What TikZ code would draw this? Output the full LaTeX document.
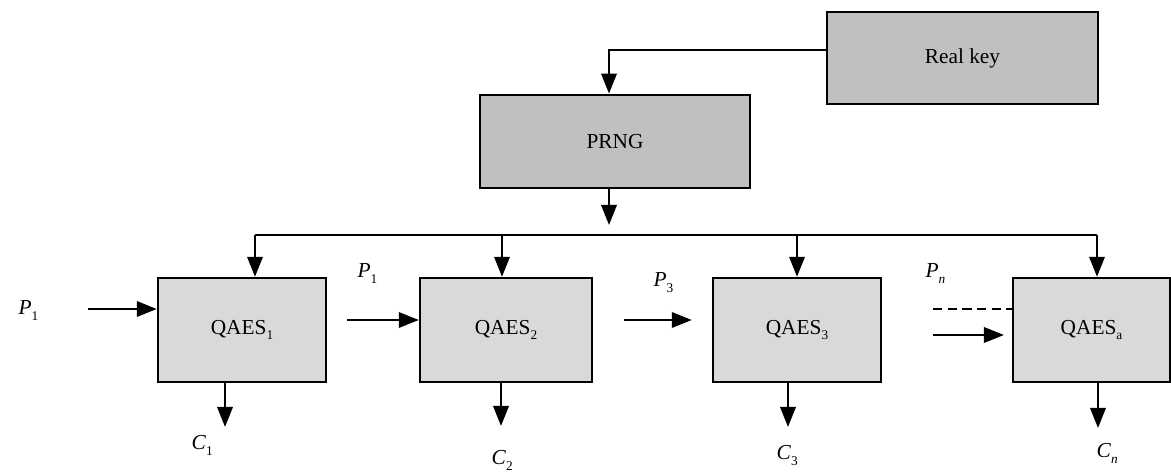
\documentclass[tikz,border=0pt]{standalone}
\usepackage{fontspec}
\setmainfont{Liberation Serif}
\usepackage{xcolor}
\usetikzlibrary{arrows.meta}

\definecolor{keygray}{RGB}{192,192,192}
\definecolor{qaesgray}{RGB}{217,217,217}
\newcommand{\lsub}[1]{\raisebox{-0.55ex}{\fontsize{10}{10}\selectfont #1}}
\newcommand{\lbl}[2]{\textit{#1}\lsub{#2}}

\begin{document}
\begin{tikzpicture}[x=0.75pt, y=-0.75pt, >={Triangle[length=15pt, width=11.5pt]}, line width=1.8pt, font=\fontsize{16}{19}\selectfont]

    \useasboundingbox (0,0) rectangle (1171,473);

    % Key and generator
    \node[draw, rectangle, fill=keygray, minimum width=203pt, minimum height=69pt] (key) at (962.5,58) {Real key};
    \node[draw, rectangle, fill=keygray, minimum width=202.5pt, minimum height=70pt] (prng) at (615,141.5) {PRNG};
    
    % QAES blocks
    \node[draw, rectangle, fill=qaesgray, minimum width=126pt, minimum height=78pt] (q1) at (242,330) {QAES\lsub{1}};
    \node[draw, rectangle, fill=qaesgray, minimum width=129pt, minimum height=78pt] (q2) at (506,330) {QAES\lsub{2}};
    \node[draw, rectangle, fill=qaesgray, minimum width=126pt, minimum height=78pt] (q3) at (797,330) {QAES\lsub{3}};
    \node[draw, rectangle, fill=qaesgray, minimum width=117.5pt, minimum height=78pt] (q4) at (1091.5,330) {QAES\lsub{a}};
    
    % Key to generator
    \coordinate (kc) at (609,50);
    \draw[->] (key.west |- kc) -- (kc) -- (prng.north -| kc);
    
    % Generator to bus
    \coordinate (pout) at (609,225);
    \draw[->] (prng.south -| pout) -- (pout);
    \coordinate (b1) at (255,235);
    \coordinate (b2) at (502,235);
    \coordinate (b3) at (797,235);
    \coordinate (b4) at (1097,235);
    \draw (b1) -- (b4);
    \draw[->] (b1) -- (q1.north -| b1);
    \draw[->] (b2) -- (q2.north -| b2);
    \draw[->] (b3) -- (q3.north -| b3);
    \draw[->] (b4) -- (q4.north -| b4);
    
    % Plaintext inputs
    \coordinate (in1) at (88,309);
    \coordinate (in2) at (347,320);
    \coordinate (in3) at (624,320);
    \coordinate (in4) at (933,309);
    \coordinate (in5) at (933,335);
    \draw[->] (in1) -- (q1.west |- in1);
    \draw[->] (in2) -- (q2.west |- in2);
    \draw[->, shorten >=15pt] (in3) -- (q3.west |- in3);
    \draw[dashed, dash pattern=on 7pt off 4pt] (in4) -- (q4.west |- in4);
    \draw[->, shorten >=6pt] (in5) -- (q4.west |- in5);
    \node[anchor=base west] (p1) at (13,315) {\lbl{P}{1}};
    \node[anchor=base west] (p2) at (352,278) {\lbl{P}{1}};
    \node[anchor=base west] (p3) at (648,287) {\lbl{P}{3}};
    \node[anchor=base west] (pn) at (920,278) {\lbl{P}{\textit{n}}};
    
    % Ciphertext outputs
    \coordinate (out1) at (225,427);
    \coordinate (out2) at (501,426);
    \coordinate (out3) at (788,427);
    \coordinate (out4) at (1098,428);
    \draw[->] (q1.south -| out1) -- (out1);
    \draw[->] (q2.south -| out2) -- (out2);
    \draw[->] (q3.south -| out3) -- (out3);
    \draw[->] (q4.south -| out4) -- (out4);
    \node[anchor=base west] (c1) at (186,450) {\lbl{C}{1}};
    \node[anchor=base west] (c2) at (486,465) {\lbl{C}{2}};
    \node[anchor=base west] (c3) at (771,460) {\lbl{C}{3}};
    \node[anchor=base west] (cn) at (1091,458) {\lbl{C}{\textit{n}}};
    
\end{tikzpicture}
\end{document}
